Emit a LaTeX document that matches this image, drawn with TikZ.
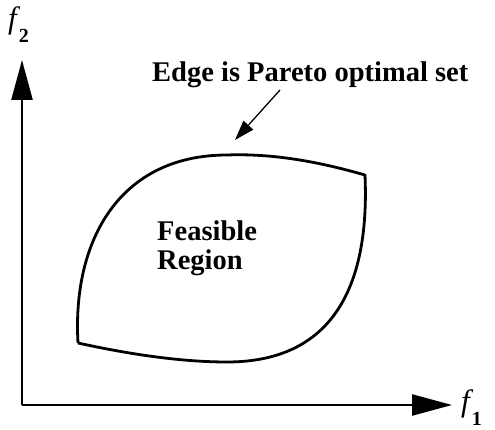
\documentclass[tikz,border=0pt]{standalone}
\usepackage{fontspec}
\setmainfont{Liberation Serif}
\usetikzlibrary{arrows.meta, positioning}
\tikzset{
    x=1pt, y=-1pt,% one unit is one point, y runs downwards
    axis/.style = {line width=2.4pt, -{Triangle[length=40pt, width=21pt]}},
    region/.style = {line width=2.8pt, line join=round},
    pointer/.style = {line width=1.3pt, -{Triangle[length=20pt, width=13pt]}},
    lbl/.style = {inner sep=0pt, font=\fontsize{28.5}{29}\selectfont\bfseries, align=left}
}
\newcommand{\fvar}[1]{{\fontsize{31}{32}\selectfont\itshape f}\kern2pt\raisebox{-14pt}{\fontsize{20}{21}\selectfont\bfseries #1}}

\begin{document}
\begin{tikzpicture}
    \useasboundingbox (0,0) rectangle (495,430);
    % axes
    \coordinate (o) at (22,405);
    \coordinate (ytop) at (22,60);
    \coordinate (xend) at (452,405);
    \draw[axis] (o) -- (ytop);
    \draw[axis] (o) -- (xend);
    \node[inner sep=0pt, anchor=base west] (f2) at (8,29) {\fvar{2}};
    \node[inner sep=0pt, anchor=base west] (f1) at (461,411) {\fvar{1}};
    % the feasible region, four edges
    \coordinate (bl) at (78,343);
    \coordinate (tp) at (227,155);
    \coordinate (tr) at (365,175);
    \coordinate (bt) at (227,362);
    \draw[region] (bl) .. controls (72,240) and (120,155) .. (tp)
        .. controls (280,153) and (330,165) .. (tr)
        .. controls (370,290) and (330,362) .. (bt)
        .. controls (170,362) and (110,350) .. (bl);
    \node[lbl, anchor=north west] (feas) at (157,221) {Feasible\\Region};
    % label for the upper edge
    \node[lbl, anchor=base west] (edge) at (152,82) {Edge is Pareto optimal set};
    \coordinate (tail) at (280,90);
    \coordinate (tip) at (235,140);
    \draw[pointer] (tail) -- (tip);
\end{tikzpicture}
\end{document}
